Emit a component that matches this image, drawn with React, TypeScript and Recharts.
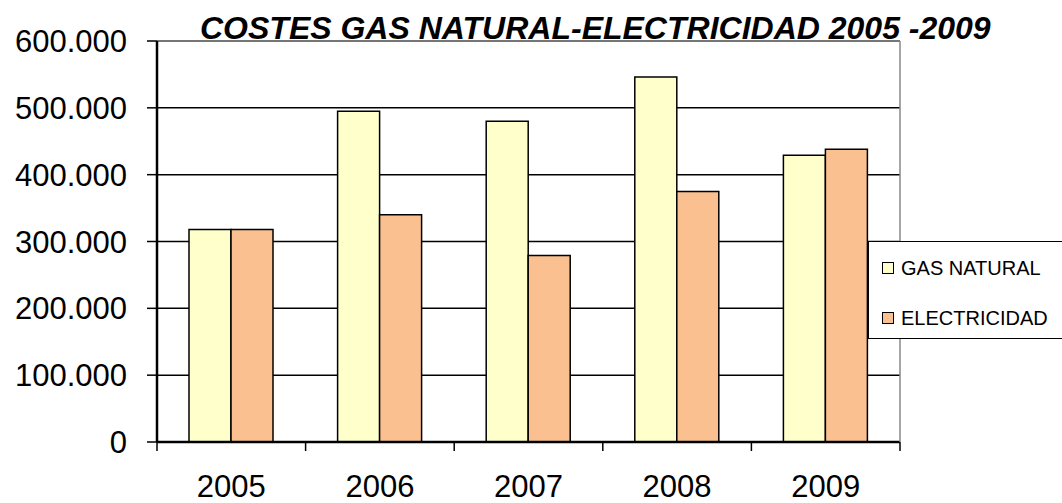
import {
  BarChart,
  Bar,
  XAxis,
  YAxis,
  CartesianGrid,
  Legend,
  ReferenceLine,
} from "recharts";

const years = ["2005", "2006", "2007", "2008", "2009"];
const gasNatural = [318000, 495000, 480000, 546000, 429000];
const electricidad = [318000, 340000, 279000, 375000, 438000];
const yTicks = [0, 100000, 200000, 300000, 400000, 500000, 600000];

const SERIES = [
  { key: "gas", name: "GAS NATURAL", color: "#FFFFCC" },
  { key: "elec", name: "ELECTRICIDAD", color: "#FAC090" },
];

const FONT = "'Liberation Sans', Arial, sans-serif";

// 600000 -> "600.000"
const fmt = (v: number) => String(v).replace(/\B(?=(\d{3})+(?!\d))/g, ".");

const chartData = years.map((y, i) => ({
  year: y,
  gas: gasNatural[i],
  elec: electricidad[i],
}));

function YearTick(props: any) {
  const { x, y, payload, index, width, visibleTicksCount } = props;
  const half = width / (visibleTicksCount || years.length) / 2;
  return (
    <g>
      <line x1={x - half} x2={x - half} y1={y} y2={y + 9} stroke="#000" strokeWidth={1.5} />
      {index === years.length - 1 && (
        <line x1={x + half} x2={x + half} y1={y} y2={y + 9} stroke="#000" strokeWidth={1.5} />
      )}
      <text x={x} y={y + 55} textAnchor="middle" fontSize={31} fontFamily={FONT} fill="#000">
        {payload.value}
      </text>
    </g>
  );
}

function LegendBox() {
  return (
    <div
      style={{
        width: 200,
        height: 98,
        boxSizing: "border-box",
        border: "1.5px solid #000",
        background: "#fff",
        fontFamily: FONT,
        fontSize: 20,
        color: "#000",
        position: "relative",
      }}
    >
      {SERIES.map((s, i) => (
        <div
          key={s.key}
          style={{
            position: "absolute",
            left: 13,
            top: 14 + i * 50,
            display: "flex",
            alignItems: "center",
            lineHeight: "24px",
            whiteSpace: "nowrap",
          }}
        >
          <span
            style={{
              display: "inline-block",
              width: 12,
              height: 12,
              boxSizing: "border-box",
              border: "1.5px solid #000",
              background: s.color,
              marginRight: 7,
            }}
          />
          {s.name}
        </div>
      ))}
    </div>
  );
}

export default function App() {
  return (
    <div
      style={{
        position: "absolute",
        left: 0,
        top: 0,
        width: 1062,
        height: 503,
        overflow: "hidden",
        background: "#fff",
      }}
    >
      <BarChart
        width={1062}
        height={503}
        data={chartData}
        margin={{ top: 41, right: 0, bottom: 0, left: 0 }}
        barGap={0}
        barSize={42}
      >
        <CartesianGrid vertical={false} stroke="#000" strokeWidth={1.5} />
        <ReferenceLine y={600000} stroke="#888" strokeWidth={1.5} />
        <XAxis
          dataKey="year"
          height={61}
          tickLine={false}
          tickSize={0}
          tickMargin={0}
          axisLine={{ stroke: "#000", strokeWidth: 2.5 }}
          tick={<YearTick />}
          interval={0}
        />
        <YAxis
          width={157}
          domain={[0, 600000]}
          ticks={yTicks}
          tickFormatter={fmt}
          tickSize={10}
          tickMargin={20}
          tickLine={{ stroke: "#000", strokeWidth: 1.5 }}
          axisLine={{ stroke: "#000", strokeWidth: 2.5 }}
          tick={{ fill: "#000", fontSize: 31, fontFamily: FONT }}
        />
        <YAxis
          yAxisId="right"
          orientation="right"
          width={162}
          domain={[0, 600000]}
          tick={false}
          tickLine={false}
          axisLine={{ stroke: "#888", strokeWidth: 1.5 }}
        />
        {SERIES.map((s) => (
          <Bar
            key={s.key}
            dataKey={s.key}
            name={s.name}
            fill={s.color}
            stroke="#000"
            strokeWidth={1.5}
            isAnimationActive={false}
          />
        ))}
        <Legend
          layout="vertical"
          align="center"
          verticalAlign="middle"
          content={<LegendBox />}
          wrapperStyle={{ left: 868, top: 241, width: 200, height: 98 }}
        />
      </BarChart>
      <div
        style={{
          position: "absolute",
          left: 200,
          top: 12,
          fontFamily: FONT,
          fontSize: 32,
          lineHeight: "32px",
          fontWeight: "bold",
          fontStyle: "italic",
          whiteSpace: "nowrap",
          color: "#000",
        }}
      >
        COSTES GAS NATURAL-ELECTRICIDAD 2005 -2009
      </div>
    </div>
  );
}
